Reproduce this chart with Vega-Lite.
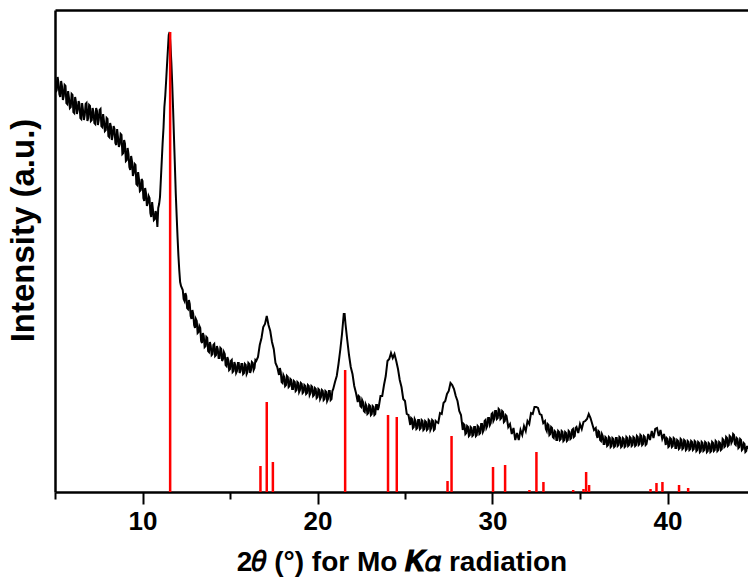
{
"$schema": "https://vega.github.io/schema/vega-lite/v6.json",
"width": 693,
"height": 482,
"autosize": {"type": "none"},
"padding": {"left": 55, "top": 10, "right": 0, "bottom": 90},
"background": "white",
"config": {"view": {"stroke": null}, "axis": {"grid": false, "labelFont": "Liberation Sans", "titleFont": "Liberation Sans"}},
"datasets": {
"curve": [
{"t":5.0,"i":417},{"t":5.05,"i":400},{"t":5.1,"i":402},{"t":5.15,"i":415},{"t":5.2,"i":409},{"t":5.25,"i":398},{"t":5.3,"i":395},{"t":5.35,"i":411},{"t":5.4,"i":406},{"t":5.45,"i":392},
{"t":5.5,"i":396},{"t":5.55,"i":407},{"t":5.6,"i":406},{"t":5.65,"i":389},{"t":5.7,"i":388},{"t":5.75,"i":401},{"t":5.8,"i":394},{"t":5.85,"i":384},{"t":5.9,"i":385},{"t":5.95,"i":398},
{"t":6.0,"i":397},{"t":6.05,"i":380},{"t":6.1,"i":379},{"t":6.15,"i":395},{"t":6.2,"i":390},{"t":6.25,"i":378},{"t":6.3,"i":382},{"t":6.35,"i":391},{"t":6.4,"i":388},{"t":6.45,"i":374},
{"t":6.5,"i":373},{"t":6.55,"i":389},{"t":6.6,"i":382},{"t":6.65,"i":372},{"t":6.7,"i":377},{"t":6.75,"i":388},{"t":6.8,"i":389},{"t":6.85,"i":371},{"t":6.9,"i":374},{"t":6.95,"i":387},
{"t":7.0,"i":386},{"t":7.05,"i":371},{"t":7.1,"i":372},{"t":7.15,"i":384},{"t":7.2,"i":380},{"t":7.25,"i":369},{"t":7.3,"i":368},{"t":7.35,"i":384},{"t":7.4,"i":381},{"t":7.45,"i":367},
{"t":7.5,"i":372},{"t":7.55,"i":382},{"t":7.6,"i":383},{"t":7.65,"i":366},{"t":7.7,"i":365},{"t":7.75,"i":378},{"t":7.8,"i":371},{"t":7.85,"i":361},{"t":7.9,"i":362},{"t":7.95,"i":374},
{"t":8.0,"i":373},{"t":8.05,"i":356},{"t":8.1,"i":355},{"t":8.15,"i":369},{"t":8.2,"i":365},{"t":8.25,"i":352},{"t":8.3,"i":357},{"t":8.35,"i":366},{"t":8.4,"i":363},{"t":8.45,"i":349},
{"t":8.5,"i":347},{"t":8.55,"i":363},{"t":8.6,"i":355},{"t":8.65,"i":345},{"t":8.7,"i":348},{"t":8.75,"i":358},{"t":8.8,"i":357},{"t":8.85,"i":338},{"t":8.9,"i":339},{"t":8.95,"i":352},
{"t":9.0,"i":348},{"t":9.05,"i":331},{"t":9.1,"i":332},{"t":9.15,"i":344},{"t":9.2,"i":338},{"t":9.25,"i":325},{"t":9.3,"i":322},{"t":9.35,"i":336},{"t":9.4,"i":331},{"t":9.45,"i":316},
{"t":9.5,"i":319},{"t":9.55,"i":328},{"t":9.6,"i":327},{"t":9.65,"i":308},{"t":9.7,"i":307},{"t":9.75,"i":320},{"t":9.8,"i":313},{"t":9.85,"i":301},{"t":9.9,"i":302},{"t":9.95,"i":313},
{"t":10.0,"i":311},{"t":10.05,"i":294},{"t":10.1,"i":291},{"t":10.15,"i":304},{"t":10.2,"i":299},{"t":10.25,"i":286},{"t":10.3,"i":289},{"t":10.35,"i":296},{"t":10.4,"i":294},{"t":10.45,"i":279},
{"t":10.5,"i":275},{"t":10.55,"i":290},{"t":10.6,"i":282},{"t":10.65,"i":272},{"t":10.7,"i":273},{"t":10.75,"i":281},{"t":10.8,"i":277},{"t":10.85,"i":265},{"t":10.9,"i":284},
{"t":10.95,"i":288},{"t":11.0,"i":295},{"t":11.05,"i":313},{"t":11.1,"i":331},{"t":11.15,"i":349},{"t":11.2,"i":364},{"t":11.25,"i":385},{"t":11.3,"i":396},{"t":11.35,"i":411},{"t":11.4,"i":427},
{"t":11.45,"i":442},{"t":11.5,"i":457},{"t":11.55,"i":460},{"t":11.6,"i":446},{"t":11.65,"i":429},{"t":11.7,"i":407},{"t":11.75,"i":382},{"t":11.8,"i":354},{"t":11.85,"i":327},{"t":11.9,"i":299},
{"t":11.95,"i":277},{"t":12.0,"i":256},{"t":12.05,"i":237},{"t":12.1,"i":222},{"t":12.15,"i":210},{"t":12.2,"i":206},
{"t":12.3,"i":202},{"t":12.35,"i":193},{"t":12.4,"i":191},{"t":12.45,"i":199},{"t":12.5,"i":196},{"t":12.55,"i":184},{"t":12.6,"i":183},{"t":12.65,"i":192},{"t":12.7,"i":188},{"t":12.75,"i":176},
{"t":12.8,"i":173},{"t":12.85,"i":182},{"t":12.9,"i":178},{"t":12.95,"i":167},{"t":13.0,"i":164},{"t":13.05,"i":173},{"t":13.1,"i":171},{"t":13.15,"i":159},{"t":13.2,"i":160},{"t":13.25,"i":166},
{"t":13.3,"i":164},{"t":13.35,"i":151},{"t":13.4,"i":149},{"t":13.45,"i":159},{"t":13.5,"i":156},{"t":13.55,"i":145},{"t":13.6,"i":146},{"t":13.65,"i":155},{"t":13.7,"i":154},{"t":13.75,"i":141},
{"t":13.8,"i":140},{"t":13.85,"i":150},{"t":13.9,"i":146},{"t":13.95,"i":137},{"t":14.0,"i":138},{"t":14.05,"i":147},{"t":14.1,"i":148},{"t":14.15,"i":136},{"t":14.2,"i":137},{"t":14.25,"i":146},
{"t":14.3,"i":143},{"t":14.35,"i":134},{"t":14.4,"i":134},{"t":14.45,"i":144},{"t":14.5,"i":143},{"t":14.55,"i":131},{"t":14.6,"i":133},{"t":14.65,"i":140},{"t":14.7,"i":138},{"t":14.75,"i":127},
{"t":14.8,"i":126},{"t":14.85,"i":135},{"t":14.9,"i":132},{"t":14.95,"i":122},{"t":15.0,"i":123},{"t":15.05,"i":131},{"t":15.1,"i":132},{"t":15.15,"i":120},{"t":15.2,"i":121},{"t":15.25,"i":130},
{"t":15.3,"i":127},{"t":15.35,"i":119},{"t":15.4,"i":121},{"t":15.45,"i":129},{"t":15.5,"i":129},{"t":15.55,"i":119},{"t":15.6,"i":121},{"t":15.65,"i":128},{"t":15.7,"i":128},{"t":15.75,"i":118},
{"t":15.8,"i":119},{"t":15.85,"i":128},{"t":15.9,"i":127},{"t":15.95,"i":118},{"t":16.0,"i":120},{"t":16.05,"i":129},{"t":16.1,"i":128},{"t":16.15,"i":119},{"t":16.2,"i":122},{"t":16.25,"i":130},
{"t":16.3,"i":129},{"t":16.35,"i":122},{"t":16.4,"i":124},{"t":16.45,"i":132},{"t":16.5,"i":131},{"t":16.6,"i":135},{"t":16.7,"i":147},{"t":16.8,"i":154},{"t":16.9,"i":165},
{"t":17.0,"i":168},{"t":17.1,"i":176},{"t":17.2,"i":167},{"t":17.3,"i":161},{"t":17.4,"i":150},{"t":17.5,"i":143},{"t":17.6,"i":129},{"t":17.7,"i":125},{"t":17.8,"i":117},{"t":17.85,"i":124},{"t":17.9,"i":120},
{"t":17.95,"i":110},{"t":18.0,"i":109},{"t":18.05,"i":117},{"t":18.1,"i":115},{"t":18.15,"i":106},{"t":18.2,"i":107},{"t":18.25,"i":116},{"t":18.3,"i":115},{"t":18.35,"i":105},{"t":18.4,"i":106},{"t":18.45,"i":113},
{"t":18.5,"i":112},{"t":18.55,"i":103},{"t":18.6,"i":103},{"t":18.65,"i":111},{"t":18.7,"i":110},{"t":18.75,"i":101},{"t":18.8,"i":102},{"t":18.85,"i":110},{"t":18.9,"i":109},{"t":18.95,"i":100},
{"t":19.0,"i":102},{"t":19.05,"i":109},{"t":19.1,"i":108},{"t":19.15,"i":99},{"t":19.2,"i":100},{"t":19.25,"i":107},{"t":19.3,"i":106},{"t":19.35,"i":98},{"t":19.4,"i":99},{"t":19.45,"i":107},
{"t":19.5,"i":106},{"t":19.55,"i":97},{"t":19.6,"i":99},{"t":19.65,"i":106},{"t":19.7,"i":105},{"t":19.75,"i":96},{"t":19.8,"i":97},{"t":19.85,"i":104},{"t":19.9,"i":103},{"t":19.95,"i":94},
{"t":20.0,"i":95},{"t":20.05,"i":103},{"t":20.1,"i":102},{"t":20.15,"i":93},{"t":20.2,"i":95},{"t":20.25,"i":102},{"t":20.3,"i":101},{"t":20.35,"i":92},{"t":20.4,"i":93},{"t":20.45,"i":101},
{"t":20.5,"i":100},{"t":20.55,"i":91},{"t":20.6,"i":93},{"t":20.65,"i":101},{"t":20.7,"i":101},{"t":20.75,"i":92},{"t":20.8,"i":93},{"t":20.85,"i":101},{"t":20.9,"i":103},
{"t":21.0,"i":110},{"t":21.1,"i":116},{"t":21.2,"i":128},{"t":21.3,"i":142},{"t":21.4,"i":158},{"t":21.5,"i":178},{"t":21.55,"i":178},{"t":21.6,"i":168},{"t":21.7,"i":152},{"t":21.8,"i":137},
{"t":21.9,"i":125},{"t":22.0,"i":118},{"t":22.1,"i":106},{"t":22.2,"i":99},{"t":22.3,"i":90},{"t":22.35,"i":96},{"t":22.4,"i":95},{"t":22.45,"i":86},{"t":22.5,"i":85},{"t":22.55,"i":92},{"t":22.6,"i":90},{"t":22.65,"i":81},{"t":22.7,"i":80},{"t":22.75,"i":88},{"t":22.8,"i":86},
{"t":22.85,"i":78},{"t":22.9,"i":79},{"t":22.95,"i":87},{"t":23.0,"i":86},{"t":23.05,"i":77},{"t":23.1,"i":78},{"t":23.15,"i":86},{"t":23.2,"i":85},{"t":23.25,"i":77},{"t":23.3,"i":78},{"t":23.35,"i":87},{"t":23.4,"i":87},{"t":23.45,"i":82},{"t":23.5,"i":85},{"t":23.6,"i":96},{"t":23.7,"i":96},{"t":23.8,"i":107},
{"t":23.9,"i":116},{"t":24.0,"i":131},{"t":24.1,"i":133},{"t":24.2,"i":139},{"t":24.3,"i":134},{"t":24.4,"i":138},{"t":24.5,"i":131},{"t":24.6,"i":123},{"t":24.7,"i":112},{"t":24.8,"i":105},
{"t":24.9,"i":93},{"t":25.0,"i":91},{"t":25.1,"i":78},{"t":25.2,"i":77},{"t":25.3,"i":67},{"t":25.35,"i":74},{"t":25.4,"i":73},{"t":25.45,"i":64},{"t":25.5,"i":65},{"t":25.55,"i":73},{"t":25.6,"i":71},{"t":25.65,"i":63},{"t":25.7,"i":64},{"t":25.75,"i":72},{"t":25.8,"i":72},
{"t":25.85,"i":63},{"t":25.9,"i":64},{"t":25.95,"i":72},{"t":26.0,"i":71},{"t":26.05,"i":62},{"t":26.1,"i":63},{"t":26.15,"i":71},{"t":26.2,"i":70},{"t":26.25,"i":62},{"t":26.3,"i":63},{"t":26.35,"i":72},{"t":26.4,"i":71},{"t":26.45,"i":62},{"t":26.5,"i":64},{"t":26.55,"i":72},{"t":26.6,"i":71},{"t":26.65,"i":62},{"t":26.7,"i":63},{"t":26.75,"i":71},{"t":26.8,"i":70},
{"t":26.9,"i":69},{"t":27.0,"i":79},{"t":27.1,"i":78},{"t":27.2,"i":89},{"t":27.3,"i":91},{"t":27.4,"i":98},{"t":27.5,"i":101},{"t":27.6,"i":109},{"t":27.7,"i":107},{"t":27.8,"i":103},
{"t":27.9,"i":96},{"t":28.0,"i":91},{"t":28.1,"i":81},{"t":28.2,"i":77},{"t":28.3,"i":62},{"t":28.35,"i":68},{"t":28.4,"i":67},{"t":28.45,"i":58},{"t":28.5,"i":59},{"t":28.55,"i":66},{"t":28.6,"i":65},{"t":28.65,"i":56},{"t":28.7,"i":57},{"t":28.75,"i":65},{"t":28.8,"i":64},
{"t":28.85,"i":56},{"t":28.9,"i":57},{"t":28.95,"i":65},{"t":29.0,"i":65},{"t":29.05,"i":56},{"t":29.1,"i":57},{"t":29.15,"i":66},{"t":29.2,"i":65},{"t":29.25,"i":58},{"t":29.3,"i":59},{"t":29.35,"i":68},{"t":29.4,"i":68},{"t":29.45,"i":60},{"t":29.5,"i":62},{"t":29.55,"i":71},{"t":29.6,"i":72},{"t":29.65,"i":64},{"t":29.7,"i":66},{"t":29.75,"i":74},{"t":29.8,"i":74},
{"t":29.85,"i":67},{"t":29.9,"i":69},{"t":29.95,"i":78},{"t":30.0,"i":79},{"t":30.05,"i":71},{"t":30.1,"i":73},{"t":30.15,"i":81},{"t":30.2,"i":81},{"t":30.25,"i":73},{"t":30.3,"i":74},{"t":30.35,"i":83},{"t":30.4,"i":82},{"t":30.45,"i":73},{"t":30.5,"i":74},{"t":30.55,"i":81},{"t":30.6,"i":80},{"t":30.65,"i":70},{"t":30.7,"i":71},{"t":30.75,"i":77},{"t":30.8,"i":76},
{"t":30.9,"i":65},{"t":31.0,"i":68},{"t":31.1,"i":58},{"t":31.2,"i":64},{"t":31.3,"i":52},{"t":31.4,"i":59},{"t":31.5,"i":52},{"t":31.6,"i":62},{"t":31.7,"i":57},{"t":31.8,"i":66},
{"t":31.9,"i":61},{"t":32.0,"i":71},{"t":32.1,"i":68},{"t":32.2,"i":79},{"t":32.3,"i":78},{"t":32.4,"i":85},{"t":32.5,"i":85},{"t":32.6,"i":84},{"t":32.7,"i":78},{"t":32.8,"i":77},
{"t":32.9,"i":69},{"t":33.0,"i":71},{"t":33.05,"i":63},{"t":33.1,"i":61},{"t":33.15,"i":68},{"t":33.2,"i":67},{"t":33.25,"i":57},{"t":33.3,"i":58},{"t":33.35,"i":65},{"t":33.4,"i":64},{"t":33.45,"i":55},{"t":33.5,"i":54},{"t":33.55,"i":61},{"t":33.6,"i":60},{"t":33.65,"i":52},{"t":33.7,"i":52},{"t":33.75,"i":61},{"t":33.8,"i":60},
{"t":33.85,"i":52},{"t":33.9,"i":53},{"t":33.95,"i":61},{"t":34.0,"i":60},{"t":34.05,"i":51},{"t":34.1,"i":52},{"t":34.15,"i":60},{"t":34.2,"i":59},{"t":34.25,"i":51},{"t":34.3,"i":52},{"t":34.35,"i":61},{"t":34.4,"i":60},{"t":34.45,"i":53},{"t":34.5,"i":54},{"t":34.55,"i":62},{"t":34.6,"i":63},{"t":34.65,"i":55},{"t":34.7,"i":56},{"t":34.75,"i":64},{"t":34.8,"i":65},
{"t":34.9,"i":59},{"t":35.0,"i":68},{"t":35.1,"i":63},{"t":35.2,"i":70},{"t":35.3,"i":71},{"t":35.4,"i":73},{"t":35.5,"i":78},{"t":35.6,"i":74},{"t":35.7,"i":68},{"t":35.8,"i":62},
{"t":35.9,"i":64},{"t":35.95,"i":57},{"t":36.0,"i":54},{"t":36.05,"i":61},{"t":36.1,"i":60},{"t":36.15,"i":52},{"t":36.2,"i":51},{"t":36.25,"i":58},{"t":36.3,"i":56},{"t":36.35,"i":48},{"t":36.4,"i":48},{"t":36.45,"i":55},{"t":36.5,"i":54},{"t":36.55,"i":46},{"t":36.6,"i":47},{"t":36.65,"i":55},{"t":36.7,"i":54},{"t":36.75,"i":45},{"t":36.8,"i":46},
{"t":36.85,"i":54},{"t":36.9,"i":53},{"t":36.95,"i":45},{"t":37.0,"i":46},{"t":37.05,"i":54},{"t":37.1,"i":54},{"t":37.15,"i":46},{"t":37.2,"i":47},{"t":37.25,"i":55},{"t":37.3,"i":54},{"t":37.35,"i":45},{"t":37.4,"i":46},{"t":37.45,"i":54},{"t":37.5,"i":53},{"t":37.55,"i":45},{"t":37.6,"i":46},{"t":37.65,"i":55},{"t":37.7,"i":54},{"t":37.75,"i":46},{"t":37.8,"i":47},
{"t":37.85,"i":55},{"t":37.9,"i":54},{"t":37.95,"i":46},{"t":38.0,"i":47},{"t":38.05,"i":55},{"t":38.1,"i":54},{"t":38.15,"i":46},{"t":38.2,"i":47},{"t":38.25,"i":56},{"t":38.3,"i":55},{"t":38.35,"i":47},{"t":38.4,"i":48},{"t":38.45,"i":57},{"t":38.5,"i":56},{"t":38.55,"i":47},{"t":38.6,"i":48},{"t":38.65,"i":56},{"t":38.7,"i":55},{"t":38.75,"i":47},{"t":38.8,"i":48},
{"t":38.9,"i":58},{"t":39.0,"i":52},{"t":39.1,"i":61},{"t":39.2,"i":54},{"t":39.3,"i":63},{"t":39.4,"i":64},{"t":39.5,"i":56},{"t":39.6,"i":62},{"t":39.7,"i":53},{"t":39.8,"i":58},
{"t":39.9,"i":47},{"t":39.95,"i":54},{"t":40.0,"i":53},{"t":40.05,"i":45},{"t":40.1,"i":46},{"t":40.15,"i":54},{"t":40.2,"i":53},{"t":40.25,"i":45},{"t":40.3,"i":46},{"t":40.35,"i":54},{"t":40.4,"i":53},{"t":40.45,"i":44},{"t":40.5,"i":44},{"t":40.55,"i":52},{"t":40.6,"i":51},{"t":40.65,"i":43},{"t":40.7,"i":44},{"t":40.75,"i":53},{"t":40.8,"i":52},
{"t":40.85,"i":43},{"t":40.9,"i":44},{"t":40.95,"i":52},{"t":41.0,"i":51},{"t":41.05,"i":42},{"t":41.1,"i":43},{"t":41.15,"i":51},{"t":41.2,"i":50},{"t":41.25,"i":42},{"t":41.3,"i":43},{"t":41.35,"i":51},{"t":41.4,"i":50},{"t":41.45,"i":42},{"t":41.5,"i":43},{"t":41.55,"i":51},{"t":41.6,"i":50},{"t":41.65,"i":41},{"t":41.7,"i":42},{"t":41.75,"i":50},{"t":41.8,"i":49},
{"t":41.85,"i":40},{"t":41.9,"i":41},{"t":41.95,"i":50},{"t":42.0,"i":49},{"t":42.05,"i":41},{"t":42.1,"i":42},{"t":42.15,"i":50},{"t":42.2,"i":49},{"t":42.25,"i":40},{"t":42.3,"i":41},{"t":42.35,"i":49},{"t":42.4,"i":48},{"t":42.45,"i":40},{"t":42.5,"i":41},{"t":42.55,"i":50},{"t":42.6,"i":49},{"t":42.65,"i":41},{"t":42.7,"i":42},{"t":42.75,"i":51},{"t":42.8,"i":50},
{"t":42.85,"i":41},{"t":42.9,"i":42},{"t":42.95,"i":50},{"t":43.0,"i":49},{"t":43.05,"i":42},{"t":43.1,"i":43},{"t":43.15,"i":53},{"t":43.2,"i":52},{"t":43.25,"i":45},{"t":43.3,"i":46},{"t":43.35,"i":55},{"t":43.4,"i":54},{"t":43.45,"i":46},{"t":43.5,"i":47},{"t":43.55,"i":56},{"t":43.6,"i":55},{"t":43.65,"i":49},{"t":43.7,"i":51},{"t":43.75,"i":58},{"t":43.8,"i":57},
{"t":43.85,"i":48},{"t":43.9,"i":47},{"t":43.95,"i":54},{"t":44.0,"i":53},{"t":44.05,"i":44},{"t":44.1,"i":45},{"t":44.15,"i":53},{"t":44.2,"i":52},{"t":44.25,"i":42},{"t":44.3,"i":43},{"t":44.35,"i":49},{"t":44.4,"i":48},{"t":44.45,"i":40},{"t":44.5,"i":41},{"t":44.55,"i":46},{"t":44.6,"i":43}
],
"sticks": [
{"t":11.58,"h":460},{"t":16.74,"h":26},{"t":17.10,"h":90},{"t":17.45,"h":30},{"t":21.58,"h":122},{"t":24.03,"h":77},{"t":24.53,"h":75},
{"t":27.43,"h":11},{"t":27.66,"h":56},{"t":30.03,"h":25},{"t":30.72,"h":27},{"t":32.11,"h":2},{"t":32.51,"h":40},{"t":32.91,"h":10},
{"t":34.61,"h":2},{"t":35.20,"h":3},{"t":35.35,"h":20},{"t":35.52,"h":7},{"t":39.03,"h":3},{"t":39.37,"h":9},{"t":39.71,"h":10},{"t":40.66,"h":7},{"t":41.18,"h":4}
]
},
"resolve": {"axis": {"x": "independent", "y": "independent"}},
"layer": [
{
"data": {"name": "curve"},
"mark": {"type": "line", "color": "#000000", "strokeWidth": 2, "clip": true, "interpolate": "linear"},
"encoding": {
"x": {"field": "t", "type": "quantitative", "scale": {"domain": [5, 44.6], "nice": false, "zero": false},
"axis": {"orient": "bottom", "values": [10, 20, 30, 40], "tickSize": 12, "tickWidth": 2, "tickColor": "#000", "domainColor": "#000", "domainWidth": 2.5,
"labelFontSize": 26, "labelFontWeight": "bold", "labelColor": "#000", "labelPadding": 4, "labelFont": "Liberation Sans",
"title": "2𝜃 (°) for Mo 𝑲𝛼 radiation", "titleFontSize": 28, "titleFontWeight": "bold", "titleColor": "#000", "titleY": 56}},
"y": {"field": "i", "type": "quantitative", "scale": {"domain": [0, 482], "nice": false},
"axis": {"orient": "left", "labels": false, "ticks": false, "domainColor": "#000", "domainWidth": 2.5,
"title": "Intensity (a.u.)", "titleFontSize": 33, "titleFontWeight": "bold", "titleColor": "#000", "titleX": -15, "titleY": 220}}
}
},
{
"data": {"name": "sticks"},
"mark": {"type": "rule", "color": "#ff0000", "strokeWidth": 2.5},
"encoding": {
"x": {"field": "t", "type": "quantitative", "axis": {"orient": "top", "labels": false, "ticks": false, "domainColor": "#000", "domainWidth": 2.5, "title": null}},
"y": {"field": "h", "type": "quantitative", "axis": null},
"y2": {"datum": 0}
}
},
{
"data": {"name": "sticks"},
"mark": {"type": "rule", "opacity": 0},
"encoding": {
"x": {"field": "t", "type": "quantitative", "axis": {"orient": "bottom", "values": [5, 15, 25, 35], "tickSize": 7, "tickWidth": 2, "tickColor": "#000", "labels": false, "domain": false, "title": null}},
"y": {"field": "h", "type": "quantitative", "axis": null},
"y2": {"datum": 0}
}
}
]
}
